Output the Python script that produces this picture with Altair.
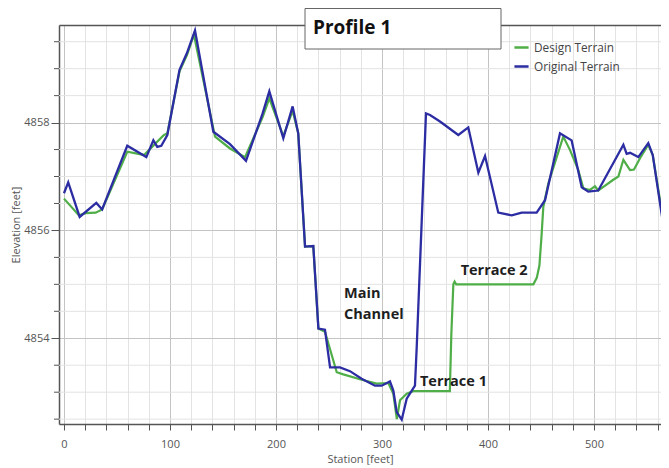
import altair as alt
import pandas as pd

# ---- data ----
orig_station = [0, 4, 14.8, 30.5, 36, 59.7, 77.7, 84.3, 88, 91.8, 97.5, 109, 116, 123.6,
                140.9, 156.6, 171.7, 187.4, 193.7, 206.9, 215.7, 221, 227.4, 235.2, 240,
                246.2, 251, 260.4, 269.8, 280.8, 293.4, 299.7, 307.5, 310.7, 313.9, 318.6,
                323.3, 331.1, 332.7, 341.5, 345.3, 354.7, 372, 381.4, 390.9, 397.2, 409.7,
                422.4, 431.8, 445.9, 453.8, 467.9, 478.9, 488.4, 494.6, 504, 527.7, 530.8,
                534, 541.8, 551.2, 555.4, 570.8]
orig_elev = [4856.69, 4856.89, 4856.25, 4856.51, 4856.39, 4857.57, 4857.36, 4857.67, 4857.55,
             4857.57, 4857.77, 4858.98, 4859.29, 4859.71, 4857.83, 4857.60, 4857.29, 4858.17,
             4858.58, 4857.71, 4858.30, 4857.80, 4855.70, 4855.71, 4854.18, 4854.16, 4853.46,
             4853.46, 4853.39, 4853.25, 4853.12, 4853.12, 4853.20, 4853.03, 4852.63, 4852.49,
             4852.88, 4853.12, 4853.81, 4858.17, 4858.14, 4858.02, 4857.77, 4857.91, 4857.07,
             4857.38, 4856.33, 4856.28, 4856.33, 4856.33, 4856.56, 4857.80, 4857.67, 4856.80,
             4856.72, 4856.74, 4857.59, 4857.42, 4857.44, 4857.36, 4857.62, 4857.40, 4855.39]

design_station = [0, 14, 20.4, 29.9, 36, 59.7, 75.5, 94.3, 97.5, 109, 116, 122.6, 142.5, 156.6,
                  170.8, 187.4, 193.7, 206.9, 215.7, 221, 227.4, 235.2, 240, 246.2, 257.3,
                  263.5, 280.8, 295, 306, 310.7, 314, 317, 323.3, 329.5, 364, 365.4, 367.3,
                  368.5, 370, 442.8, 446, 448.5, 450.5, 452.2, 456.9, 471, 477.4, 485.2, 489.9,
                  496.2, 500.9, 504, 518.2, 523, 527.7, 534, 537.7, 543.4, 551.2, 555.4, 570.8]
design_elev = [4856.59, 4856.28, 4856.32, 4856.33, 4856.39, 4857.46, 4857.40, 4857.77, 4857.80,
               4858.95, 4859.25, 4859.63, 4857.74, 4857.52, 4857.36, 4858.10, 4858.45, 4857.75,
               4858.22, 4857.80, 4855.70, 4855.71, 4854.18, 4854.12, 4853.37, 4853.33, 4853.23,
               4853.16, 4853.17, 4852.97, 4852.50, 4852.85, 4852.97, 4853.02, 4853.02, 4854.07,
               4855.00, 4855.05, 4855.00, 4855.00, 4855.12, 4855.35, 4855.90, 4856.44, 4856.87,
               4857.74, 4857.49, 4857.12, 4856.78, 4856.75, 4856.82, 4856.74, 4856.94, 4857.00,
               4857.31, 4857.12, 4857.13, 4857.34, 4857.59, 4857.40, 4855.51]

series_names = ["Design Terrain", "Original Terrain"]
series_colors = ["#4fae47", "#2c2ca3"]

ann_text = ["Main", "Channel", "Terrace 1", "Terrace 2"]
ann_station = [264.2, 264.2, 335.8, 374.2]
ann_elev = [4854.83, 4854.43, 4853.19, 4855.25]

x_ticks = list(range(0, 580, 20))
y_major = [4854, 4856, 4858]
y_minor = [4852.5, 4853, 4853.5, 4854.5, 4855, 4855.5, 4856.5, 4857, 4857.5,
           4858.5, 4859, 4859.5]

x_domain = [-4.7, 563.2]
y_domain = [4852.41, 4859.81]

# ---- tables ----
design_df = pd.DataFrame({"station": design_station, "elevation": design_elev,
                          "series": series_names[0]})
orig_df = pd.DataFrame({"station": orig_station, "elevation": orig_elev,
                        "series": series_names[1]})
ann_df = pd.DataFrame({"label": ann_text, "station": ann_station, "elevation": ann_elev})
minor_df = pd.DataFrame({"elevation": y_minor})
title_df = pd.DataFrame({"t": ["Profile 1"]})

FONT = "Open Sans"
AX = "#555555"
W, H = 602, 399

x_scale = alt.Scale(domain=x_domain, nice=False, zero=False)
y_scale = alt.Scale(domain=y_domain, nice=False, zero=False)

x_axis = alt.Axis(
    values=x_ticks,
    labelExpr="datum.value % 100 === 0 ? datum.label : ''",
    grid=True,
    gridColor={"condition": {"test": "datum.value % 100 === 0", "value": "#c4c4c4"},
               "value": "#e3e3e3"},
    tickSize=6, labelPadding=8, titlePadding=4,
    title="Station [feet]",
)
x_top = alt.Axis(orient="top", labels=False, ticks=False, grid=False, title=None,
                 domainColor=AX, domainWidth=1.5)
y_axis = alt.Axis(
    values=y_major,
    format="d",
    grid=True,
    gridColor="#c4c4c4",
    tickSize=8,
    labelPadding=2, titlePadding=2,
    title="Elevation [feet]",
)
y_enc = alt.Y("elevation:Q", scale=y_scale, axis=y_axis)

color_enc = alt.Color(
    "series:N",
    scale=alt.Scale(domain=series_names, range=series_colors),
    legend=alt.Legend(title=None, orient="none", legendX=454, legendY=14,
                      symbolType="stroke", symbolSize=200, symbolStrokeWidth=2.5,
                      labelFont=FONT, labelFontSize=11.8, labelColor="#444",
                      rowPadding=3, labelOffset=4, padding=0),
)

minor_grid = alt.Chart(minor_df).mark_rule(color="#e3e3e3", strokeWidth=1).encode(
    y=y_enc, x=alt.value(0), x2=alt.value(W),
)
minor_ticks = alt.Chart(minor_df).mark_rule(color=AX, strokeWidth=1).encode(
    y=y_enc, x=alt.value(-5), x2=alt.value(0),
)
design_line = alt.Chart(design_df).mark_line(strokeWidth=2.2, clip=True).encode(
    x=alt.X("station:Q", scale=x_scale, axis=x_axis),
    y=y_enc,
    color=color_enc,
    order="station:Q",
)
orig_line = alt.Chart(orig_df).mark_line(strokeWidth=2.3, clip=True).encode(
    x=alt.X("station:Q", scale=x_scale, axis=x_top),
    y=y_enc,
    color=color_enc,
    order="station:Q",
)
ann = alt.Chart(ann_df).mark_text(font=FONT, fontSize=14.5, fontWeight="bold",
                                  align="left", baseline="middle", color="#1e1e1e").encode(
    x=alt.X("station:Q", scale=x_scale, axis=None),
    y=y_enc,
    text="label:N",
)
title_box = alt.Chart(title_df).mark_rect(fill="white", stroke="#666", strokeWidth=1).encode(
    x=alt.value(246), x2=alt.value(442), y=alt.value(-16.5), y2=alt.value(24),
)
title_text = alt.Chart(title_df).mark_text(font=FONT, fontSize=19, fontWeight="bold",
                                           align="left", baseline="alphabetic",
                                           color="#111").encode(
    x=alt.value(254), y=alt.value(9), text="t:N",
)

chart = (
    alt.layer(minor_grid, minor_ticks, design_line, orig_line, ann, title_box, title_text)
    .resolve_axis(x="independent")
    .properties(width=W, height=H,
                autosize=alt.AutoSizeParams(type="none"),
                padding={"left": 51, "top": 17, "right": 0, "bottom": 50})
    .configure_view(stroke=None)
    .configure_axis(domainColor=AX, domainWidth=1.5, tickColor=AX, labelColor=AX,
                    titleColor=AX, labelFont=FONT, titleFont=FONT, labelFontSize=11,
                    titleFontSize=11, titleFontWeight="normal")
)

chart.save("out.html", embed_options={"renderer": "svg", "actions": False})
